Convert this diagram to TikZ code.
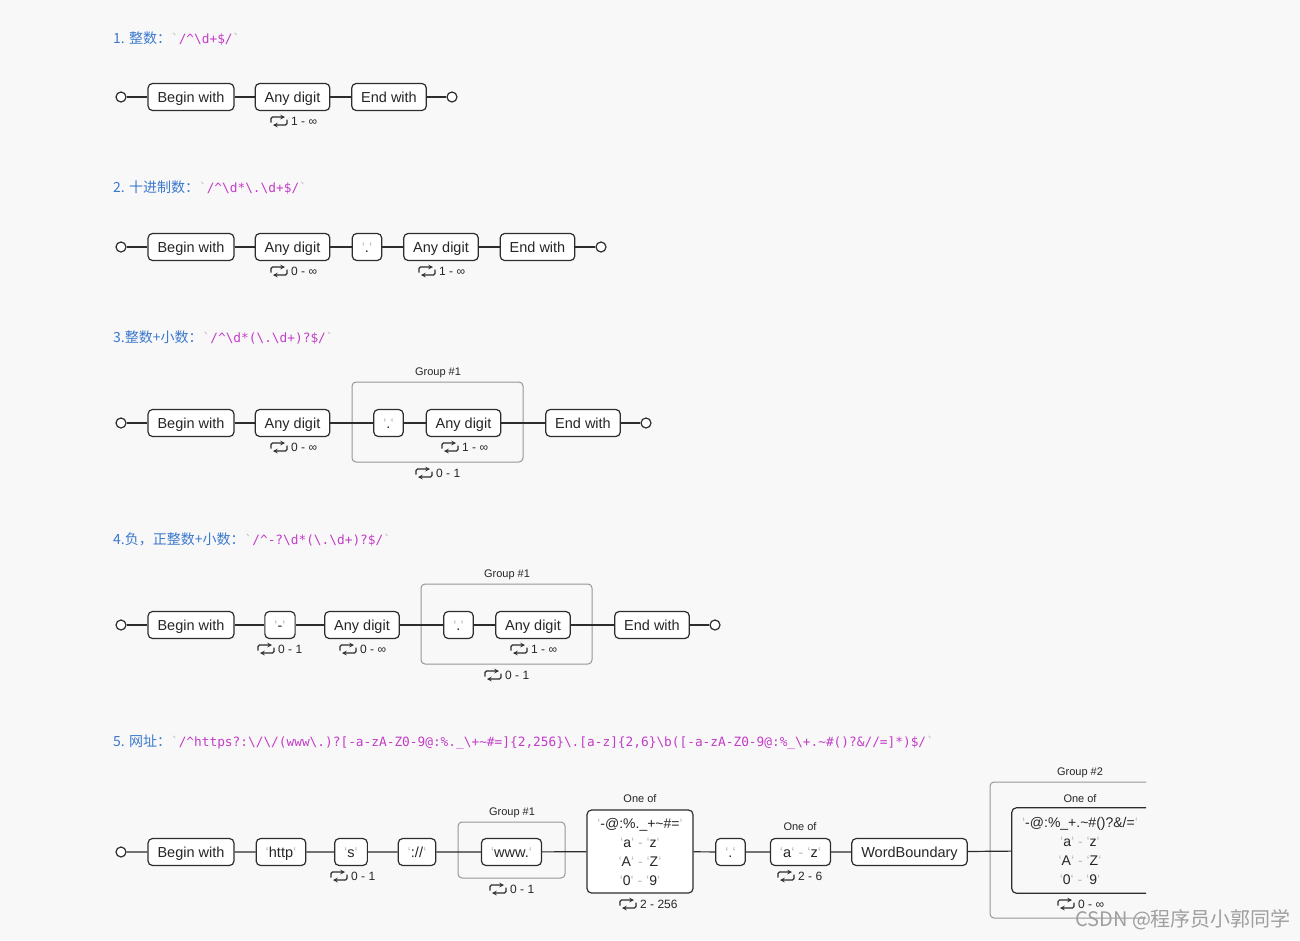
\documentclass[tikz,border=0pt]{standalone}
\usepackage{fontspec}
\setmainfont{Liberation Sans}
\newfontfamily\cjk{Noto Sans CJK SC}
\newfontfamily\rx{DejaVu Sans Mono}
\definecolor{bgGray}{RGB}{248,248,248}
\definecolor{boxLine}{RGB}{45,45,45}
\definecolor{grpLine}{RGB}{150,150,150}
\definecolor{titleBlue}{RGB}{60,120,205}
\definecolor{rxPink}{RGB}{195,60,200}
\colorlet{tick}{gray!55}
\newcommand{\q}[1]{{\color{tick}`}#1{\color{tick}`}}
\newcommand{\rng}[2]{\q{#1}~{\color{tick}-}~\q{#2}}
\newcommand{\hd}[2]{{\cjk\color{titleBlue}#1}{\rx\fontsize{12.8}{16}\selectfont\color{tick}`}{\rx\fontsize{12.8}{16}\selectfont\color{rxPink}#2}{\rx\fontsize{12.8}{16}\selectfont\color{tick}`}}
\newcommand{\reps}[4]{%
  \pic at (#2-14,#3) {loopicon};
  \node[reptxt, anchor=west] (#1) at (#2-2,#3) {#4};}
\tikzset{
  loopicon/.pic={
    \draw[->, >=stealth, line width=1.1pt, rounded corners=1.5pt, boxLine] (-8,1.5) -- (-8,-4) -- (6,-4);
    \draw[->, >=stealth, line width=1.1pt, rounded corners=1.5pt, boxLine] (8,-1.5) -- (8,4) -- (-6,4);
  }
}

\begin{document}
\begin{tikzpicture}[x=1pt, y=-1pt,
    every node/.style={font=\fontsize{14.5}{17}\selectfont, text=black!85},
    blk/.style={draw=boxLine, fill=white, line width=1.2pt, rounded corners=4.5pt, minimum height=27pt, inner xsep=9.5pt, inner ysep=0pt, text height=12.5pt, text depth=2.5pt},
    endpt/.style={circle, draw=boxLine, fill=white, line width=1.2pt, minimum size=10pt, inner sep=0pt},
    grp/.style={draw=grpLine, line width=1pt, rounded corners=4pt},
    tag/.style={font=\fontsize{11}{13}\selectfont},
    reptxt/.style={font=\fontsize{12}{14}\selectfont, inner sep=0pt},
    hd/.style={anchor=west, inner sep=0pt, font=\fontsize{14}{16}\selectfont},
    wire/.style={draw=boxLine, line width=1.2pt}]
    \fill[bgGray] (0,0) rectangle (1300,940);

    % 1
    \node[hd] (h1) at (113,39) {\hd{1. 整数：}{/\textasciicircum\textbackslash d+\$/}};
    \node[endpt] (s1) at (121,97) {};
    \node[blk] (b1) at (191,97) {Begin with};
    \node[blk] (d1) at (292.5,97) {Any digit};
    \node[blk] (e1) at (389,97) {End with};
    \node[endpt] (t1) at (452,97) {};
    \draw[wire] (s1) -- (b1) (b1) -- (d1) (d1) -- (e1) (e1) -- (t1);
    \reps{r1}{293}{121}{1 - ∞}

    % 2
    \node[hd] (h2) at (113,188) {\hd{2. 十进制数：}{/\textasciicircum\textbackslash d*\textbackslash.\textbackslash d+\$/}};
    \node[endpt] (s2) at (121,247) {};
    \node[blk] (b2) at (191,247) {Begin with};
    \node[blk] (da2) at (292.5,247) {Any digit};
    \node[blk] (p2) at (367,247) {\q{.}};
    \node[blk] (db2) at (441,247) {Any digit};
    \node[blk] (e2) at (537.5,247) {End with};
    \node[endpt] (t2) at (601,247) {};
    \draw[wire] (s2) -- (b2) (b2) -- (da2) (da2) -- (p2) (p2) -- (db2) (db2) -- (e2) (e2) -- (t2);
    \reps{r2a}{293}{271}{0 - ∞}
    \reps{r2b}{441}{271}{1 - ∞}

    % 3
    \node[hd] (h3) at (113,338) {\hd{3.整数+小数：}{/\textasciicircum\textbackslash d*(\textbackslash.\textbackslash d+)?\$/}};
    \node[grp, minimum width=171pt, minimum height=80pt] (g3) at (437.5,422) {};
    \node[tag] (g3l) at (438,373) {Group \#1};
    \node[endpt] (s3) at (121,423) {};
    \node[blk] (b3) at (191,423) {Begin with};
    \node[blk] (da3) at (292.5,423) {Any digit};
    \node[blk] (p3) at (388.5,423) {\q{.}};
    \node[blk] (db3) at (463.5,423) {Any digit};
    \node[blk] (e3) at (583,423) {End with};
    \node[endpt] (t3) at (646,423) {};
    \draw[wire] (s3) -- (b3) (b3) -- (da3) (da3) -- (p3) (p3) -- (db3) (db3) -- (e3) (e3) -- (t3);
    \reps{r3a}{293}{447}{0 - ∞}
    \reps{r3b}{464}{447}{1 - ∞}
    \reps{r3c}{438}{473}{0 - 1}

    % 4
    \node[hd] (h4) at (113,540) {\hd{4.负，正整数+小数：}{/\textasciicircum-?\textbackslash d*(\textbackslash.\textbackslash d+)?\$/}};
    \node[grp, minimum width=171pt, minimum height=80pt] (g4) at (506.5,624) {};
    \node[tag] (g4l) at (507,575) {Group \#1};
    \node[endpt] (s4) at (121,625) {};
    \node[blk] (b4) at (191,625) {Begin with};
    \node[blk] (m4) at (280,625) {\q{-}};
    \node[blk] (da4) at (362,625) {Any digit};
    \node[blk] (p4) at (458.5,625) {\q{.}};
    \node[blk] (db4) at (533,625) {Any digit};
    \node[blk] (e4) at (652,625) {End with};
    \node[endpt] (t4) at (715,625) {};
    \draw[wire] (s4) -- (b4) (b4) -- (m4) (m4) -- (da4) (da4) -- (p4) (p4) -- (db4) (db4) -- (e4) (e4) -- (t4);
    \reps{r4a}{280}{649}{0 - 1}
    \reps{r4b}{362}{649}{0 - ∞}
    \reps{r4c}{533}{649}{1 - ∞}
    \reps{r4d}{507}{675}{0 - 1}

    % 5
    \node[hd] (h5) at (113,742) {\hd{5. 网址：}{/\textasciicircum https?:\textbackslash/\textbackslash/(www\textbackslash.)?[-a-zA-Z0-9@:\%.\_\textbackslash+\textasciitilde\#=]\{2,256\}\textbackslash.[a-z]\{2,6\}\textbackslash b([-a-zA-Z0-9@:\%\_\textbackslash+.\textasciitilde\#()?\&//=]*)\$/}};
    \node[grp, minimum width=107pt, minimum height=56pt] (g5) at (511.5,850) {};
    \node[tag] (g5l) at (512,813) {Group \#1};
    \draw[grp] (1146,782) -- (990,782) -- (990,918) -- (1146,918);
    \node[tag] (g6l) at (1080,773) {Group \#2};
    \node[endpt] (s5) at (121,852) {};
    \node[blk] (b5) at (191,852) {Begin with};
    \node[blk] (http5) at (281,852) {\q{http}};
    \node[blk] (ss5) at (351,852) {\q{s}};
    \node[blk] (sl5) at (417,852) {\q{://}};
    \node[blk] (w5) at (511.5,852) {\q{www.}};
    \node[blk, minimum width=106pt, minimum height=83pt, align=center, text height=, text depth=, font=\fontsize{14}{19}\selectfont] (ob1) at (640,851.5)
      {\q{-@:\%.\_+\textasciitilde\#=}\\\rng{a}{z}\\\rng{A}{Z}\\\rng{0}{9}};
    \node[tag] (ob1l) at (640,799) {One of};
    \node[blk] (p5) at (730.5,852) {\q{.}};
    \node[blk] (az5) at (800.5,852) {\rng{a}{z}};
    \node[tag] (az5l) at (800,827) {One of};
    \node[blk] (wb5) at (909.5,852) {WordBoundary};
    \node[minimum width=136pt, minimum height=85pt, inner sep=0pt, align=center, font=\fontsize{14}{19}\selectfont] (ob2) at (1080,850.5)
      {\q{-@:\%\_+.\textasciitilde\#()?\&/=}\\\rng{a}{z}\\\rng{A}{Z}\\\rng{0}{9}};
    \draw[draw=boxLine, line width=1.2pt, rounded corners=4.5pt] ([xshift=-2pt]ob2.north east) -- (ob2.north west) -- (ob2.south west) -- ([xshift=-2pt]ob2.south east);
    \node[tag] (ob2l) at (1080,799) {One of};
    \draw[wire] (s5) -- (b5) (b5) -- (http5) (http5) -- (ss5) (ss5) -- (sl5) (sl5) -- (w5) (w5) -- (ob1) (ob1) -- (p5) (p5) -- (az5) (az5) -- (wb5) (wb5) -- (ob2);
    \reps{r5a}{353}{876}{0 - 1}
    \reps{r5b}{512}{889}{0 - 1}
    \reps{r5c}{642}{904}{2 - 256}
    \reps{r5d}{800}{876}{2 - 6}
    \reps{r5e}{1080}{904}{0 - ∞}

    \node[anchor=west, inner sep=0pt, font=\cjk\fontsize{20}{22}\selectfont, text=gray!75] (csdn) at (1075,920) {CSDN @程序员小郭同学};
\end{tikzpicture}
\end{document}
